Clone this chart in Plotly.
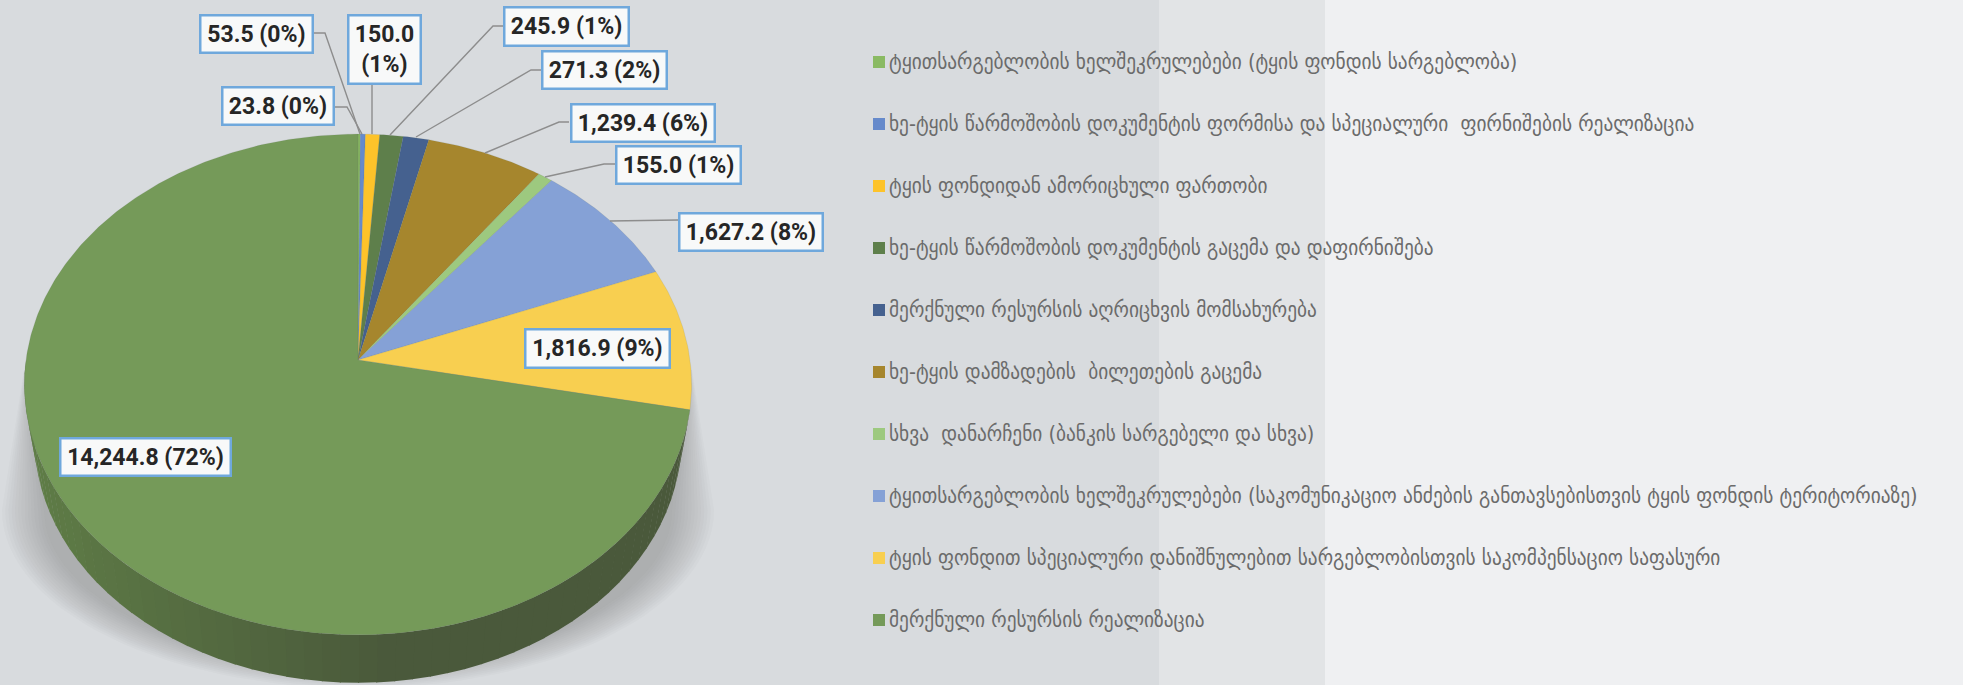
import numpy as np
import plotly.graph_objects as go

categories = [
    "ტყითსარგებლობის ხელშეკრულებები (ტყის ფონდის სარგებლობა)",
    "ხე-ტყის წარმოშობის დოკუმენტის ფორმისა და სპეციალური  ფირნიშების რეალიზაცია",
    "ტყის ფონდიდან ამორიცხული ფართობი",
    "ხე-ტყის წარმოშობის დოკუმენტის გაცემა და დაფირნიშება",
    "მერქნული რესურსის აღრიცხვის მომსახურება",
    "ხე-ტყის დამზადების  ბილეთების გაცემა",
    "სხვა  დანარჩენი (ბანკის სარგებელი და სხვა)",
    "ტყითსარგებლობის ხელშეკრულებები (საკომუნიკაციო ანძების განთავსებისთვის ტყის ფონდის ტერიტორიაზე)",
    "ტყის ფონდით სპეციალური დანიშნულებით სარგებლობისთვის საკომპენსაციო საფასური",
    "მერქნული რესურსის რეალიზაცია",
]
values = [23.8, 53.5, 150.0, 245.9, 271.3, 1239.4, 155.0, 1627.2, 1816.9, 14244.8]
percents = [0, 0, 1, 1, 2, 6, 1, 8, 9, 72]
colors = ["#8aba63", "#668acb", "#fdc32a", "#5e7f4b", "#45618f",
          "#a6862d", "#9dc97f", "#85a1d6", "#f8cf50", "#759a59"]

W, H = 1963, 685
fig = go.Figure()

# ---- geometry of the tilted pie (a perspective projection of a circle)
CX, CY, A, B, K = 358, 360, 332, 248, 0.0978
BX, BY, BA, BB, BK = 358, 414, 322, 242.5, 0.0978


def project(theta, cx=CX, cy=CY, a=A, b=B, k=K, r=1.0):
    x, y = r * np.sin(theta), -r * np.cos(theta)
    w = 1 - k * y
    return cx + a * x / w, cy + b * y / w


def poly(xs, ys, fill, line=None, lw=0):
    fig.add_trace(go.Scatter(
        x=list(xs), y=list(ys), mode="lines", fill="toself", fillcolor=fill,
        line=dict(color=line or "rgba(0,0,0,0)", width=lw),
        hoverinfo="skip", showlegend=False))


# ---- soft shadow under the pie
for i in range(14):
    t = i / 13
    rx, ry = 356 - 42 * t, 178 - 22 * t
    a = np.linspace(np.pi, 0, 60)
    sx = 358 + rx * np.cos(a)
    sy = 510 + ry * np.sin(a)
    top_dx = 334 - 4 * t
    poly(np.r_[358 - top_dx, sx, 358 + top_dx], np.r_[370, sy, 370],
         "rgba(128,132,136,0.04)")

# ---- side wall, drawn in strips so that its shade changes round the rim
total = sum(values)
fractions = np.array(values) / total
edges = np.r_[0, np.cumsum(fractions)] * 2 * np.pi
wall_start, wall_end = edges[-2], edges[-1]
strips = np.linspace(wall_start, wall_end, 90)
shade_a = np.array([0x5f, 0x7d, 0x47])
shade_b = np.array([0x4a, 0x59, 0x3b])
for t0, t1 in zip(strips[:-1], strips[1:]):
    tm = 0.5 * (t0 + t1)
    lx = np.sin(tm)
    u = np.clip((lx + 0.95) / 1.05, 0, 1)
    c = shade_a + (shade_b - shade_a) * u
    if np.cos(tm) > 0:
        continue
    s = np.linspace(t0, t1 + 0.003, 4)
    tx, ty = project(s)
    bx, by = project(s, BX, BY, BA, BB, BK)
    col = "rgb(%d,%d,%d)" % tuple(c)
    poly(np.r_[tx, bx[::-1]], np.r_[ty, by[::-1]], col)

# ---- pie slices
for i, (v, col) in enumerate(zip(values, colors)):
    n = max(6, int((edges[i + 1] - edges[i]) * 90))
    s = np.linspace(edges[i], edges[i + 1], n)
    px, py = project(s)
    poly(np.r_[CX, px, CX], np.r_[CY, py, CY], col,
         line="rgba(90,100,90,0.25)", lw=0.5)

# ---- leader lines
leaders = [
    ([334, 347, 362], [107, 107, 134]),
    ([314, 325, 360], [33, 33, 134]),
    ([372, 372], [84, 134]),
    ([503, 493, 390], [26, 26, 135]),
    ([541, 531, 416], [70, 70, 137]),
    ([569, 559, 485], [122, 122, 153]),
    ([615, 604, 545], [164, 164, 177]),
    ([678, 610], [220, 221]),
]
for lx, ly in leaders:
    fig.add_trace(go.Scatter(x=lx, y=ly, mode="lines", hoverinfo="skip",
                             showlegend=False,
                             line=dict(color="#8d8d8d", width=1.4)))

# ---- data labels
boxes = [(221, 334, 86, 125), (199, 313, 14, 53), (347, 421, 14, 84),
         (503, 629, 6, 46), (541, 667, 50, 89), (570, 715, 103, 142),
         (615, 741, 145, 184), (678, 823, 212, 251), (524, 670, 328, 368),
         (59, 231, 437, 476)]
for i, (v, p, (x0, x1, y0, y1)) in enumerate(zip(values, percents, boxes)):
    sep = "<br>" if i == 2 else " "
    fig.add_annotation(
        x=(x0 + x1) / 2, y=(y0 + y1) / 2, xref="x", yref="y", showarrow=False,
        text=f"<b>{v:,.1f}{sep}({p}%)</b>", width=x1 - x0 - 4, height=y1 - y0 - 4,
        align="center", valign="middle", bgcolor="#f8f9f9",
        bordercolor="#6fa8dc", borderwidth=2.5, borderpad=0,
        font=dict(family="Roboto", size=23, color="#262626"))

# ---- legend rows
row_y = [62 + 62 * i for i in range(len(categories))]
fig.add_trace(go.Scatter(
    x=[879] * len(categories), y=row_y, mode="markers", hoverinfo="skip",
    showlegend=False,
    marker=dict(symbol="square", size=12, color=colors, line=dict(width=0))))
for name, y in zip(categories, row_y):
    fig.add_annotation(
        x=887, y=y - 1, xref="x", yref="y", text=name, showarrow=False,
        xanchor="left", yanchor="middle", align="left",
        font=dict(family="DejaVu Sans Condensed, DejaVu Sans", size=21.5, color="#6b6b6b"))

# ---- background bands
bands = [(0, 1159, "#d8dbde"), (1159, 1325, "#e2e4e6"), (1325, W, "#eff0f2")]
shapes = [dict(type="rect", xref="x", yref="y", x0=a, x1=b, y0=0, y1=H,
               fillcolor=c, line=dict(width=0), layer="below") for a, b, c in bands]

fig.update_layout(
    width=W, height=H, margin=dict(l=0, r=0, t=0, b=0),
    paper_bgcolor="#d8dbde", plot_bgcolor="#d8dbde", showlegend=False, shapes=shapes,
    xaxis=dict(range=[0, W], visible=False, fixedrange=True),
    yaxis=dict(range=[H, 0], visible=False, fixedrange=True),
)
fig.write_html("out.html", config={"displayModeBar": False},
               post_script="document.body.style.margin='0';document.body.style.overflow='hidden';")
